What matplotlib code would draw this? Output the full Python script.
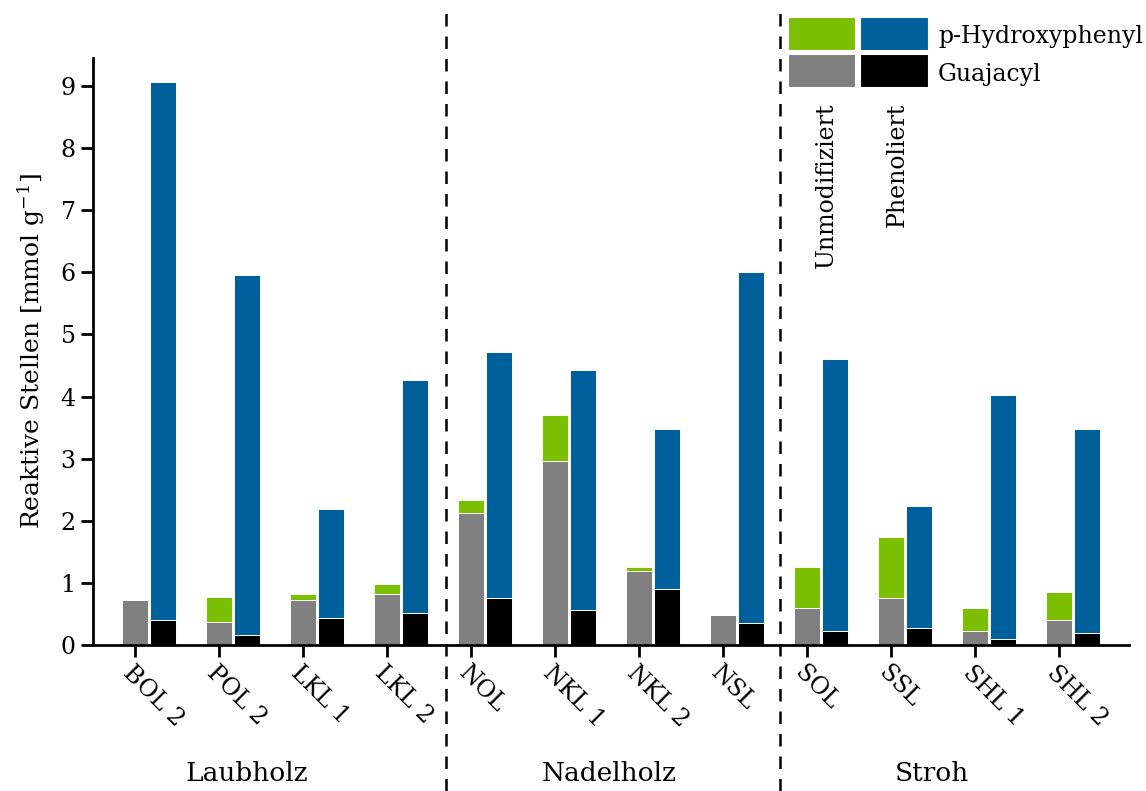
import matplotlib
matplotlib.use("Agg")
import matplotlib.pyplot as plt
import numpy as np
from matplotlib.patches import Rectangle
from matplotlib.transforms import blended_transform_factory


samples = ["BOL 2", "POL 2", "LKL 1", "LKL 2", "NOL", "NKL 1",
           "NKL 2", "NSL", "SOL", "SSL", "SHL 1", "SHL 2"]
groups = ["Laubholz", "Nadelholz", "Stroh"]

# reactive sites [mmol/g], split into guajacyl and p-hydroxyphenyl
unmod_guaj = [0.73, 0.37, 0.73, 0.825, 2.13, 2.97, 1.19, 0.49, 0.60, 0.75, 0.22, 0.41]
unmod_hydr = [0.00, 0.40, 0.095, 0.155, 0.21, 0.74, 0.06, 0.00, 0.65, 0.99, 0.37, 0.45]
phen_guaj = [0.40, 0.16, 0.43, 0.515, 0.75, 0.57, 0.90, 0.36, 0.23, 0.28, 0.09, 0.19]
phen_hydr = [8.66, 5.80, 1.76, 3.755, 3.96, 3.85, 2.58, 5.64, 4.37, 1.95, 3.94, 3.29]

C_GREEN = "#7abf00"
C_BLUE = "#00609c"
C_GRAY = "#808080"
C_BLACK = "#000000"

plt.rcParams["font.family"] = ["DejaVu Serif"]
plt.rcParams["mathtext.fontset"] = "dejavuserif"

fig = plt.figure(figsize=(11.46, 7.91), dpi=100)
ax = fig.add_axes([0.0812, 0.1846, 0.9038, 0.742])

x = np.arange(len(samples))
w = 0.31
off = 0.335
kw = dict(width=w, edgecolor="white", linewidth=0.7)

ax.bar(x, unmod_guaj, color=C_GRAY, **kw)
ax.bar(x, unmod_hydr, bottom=unmod_guaj, color=C_GREEN, **kw)
ax.bar(x + off, phen_guaj, color=C_BLACK, **kw)
ax.bar(x + off, phen_hydr, bottom=phen_guaj, color=C_BLUE, **kw)

ax.set_xlim(-0.5, 11.83)
ax.set_ylim(0, 9.45)
ax.set_yticks(range(10))
ax.set_xticks(x)
ax.set_xticklabels(samples, rotation=-45, ha="left", va="top",
                   rotation_mode="anchor", fontsize=17)
ax.tick_params(axis="y", labelsize=17, width=2, length=8.5, pad=4)
ax.tick_params(axis="x", width=2, length=8.5, pad=3)
for s in ["top", "right"]:
    ax.spines[s].set_visible(False)
for s in ["left", "bottom"]:
    ax.spines[s].set_linewidth(2)

ax.set_ylabel("Reaktive Stellen [mmol g$^{\\mathregular{-1}}$]", fontsize=18,
              labelpad=10)

# group separators and group names
trans = blended_transform_factory(ax.transData, fig.transFigure)
for xs in [3.70, 7.68]:
    ax.plot([xs, xs], [0.0, 0.985], transform=trans, color="black",
            lw=1.8, linestyle=(0, (5, 4)), clip_on=False)
for gx, name in zip([1.33, 5.65, 9.48], groups):
    fig.text(gx, 0.022, name, transform=trans, ha="center", va="center",
             fontsize=19)

# legend block
def px_rect(x0, y0, x1, y1, color):
    fig.add_artist(Rectangle((x0 / 1146, 1 - y1 / 791),
                             (x1 - x0) / 1146, (y1 - y0) / 791,
                             transform=fig.transFigure, facecolor=color,
                             edgecolor="white", linewidth=0.8))

px_rect(788, 17, 855, 50, C_GREEN)
px_rect(860, 17, 928, 50, C_BLUE)
px_rect(788, 54, 855, 87, C_GRAY)
px_rect(860, 54, 928, 87, C_BLACK)
fig.text(938 / 1146, 1 - 37 / 791, "p-Hydroxyphenyl", ha="left", va="center",
         fontsize=17)
fig.text(938 / 1146, 1 - 74 / 791, "Guajacyl", ha="left", va="center",
         fontsize=17)
fig.text(826 / 1146, 1 - 103 / 791, "Unmodifiziert", rotation=90,
         ha="center", va="top", fontsize=17)
fig.text(897 / 1146, 1 - 103 / 791, "Phenoliert", rotation=90,
         ha="center", va="top", fontsize=17)

fig.savefig("out.png", dpi=100)
